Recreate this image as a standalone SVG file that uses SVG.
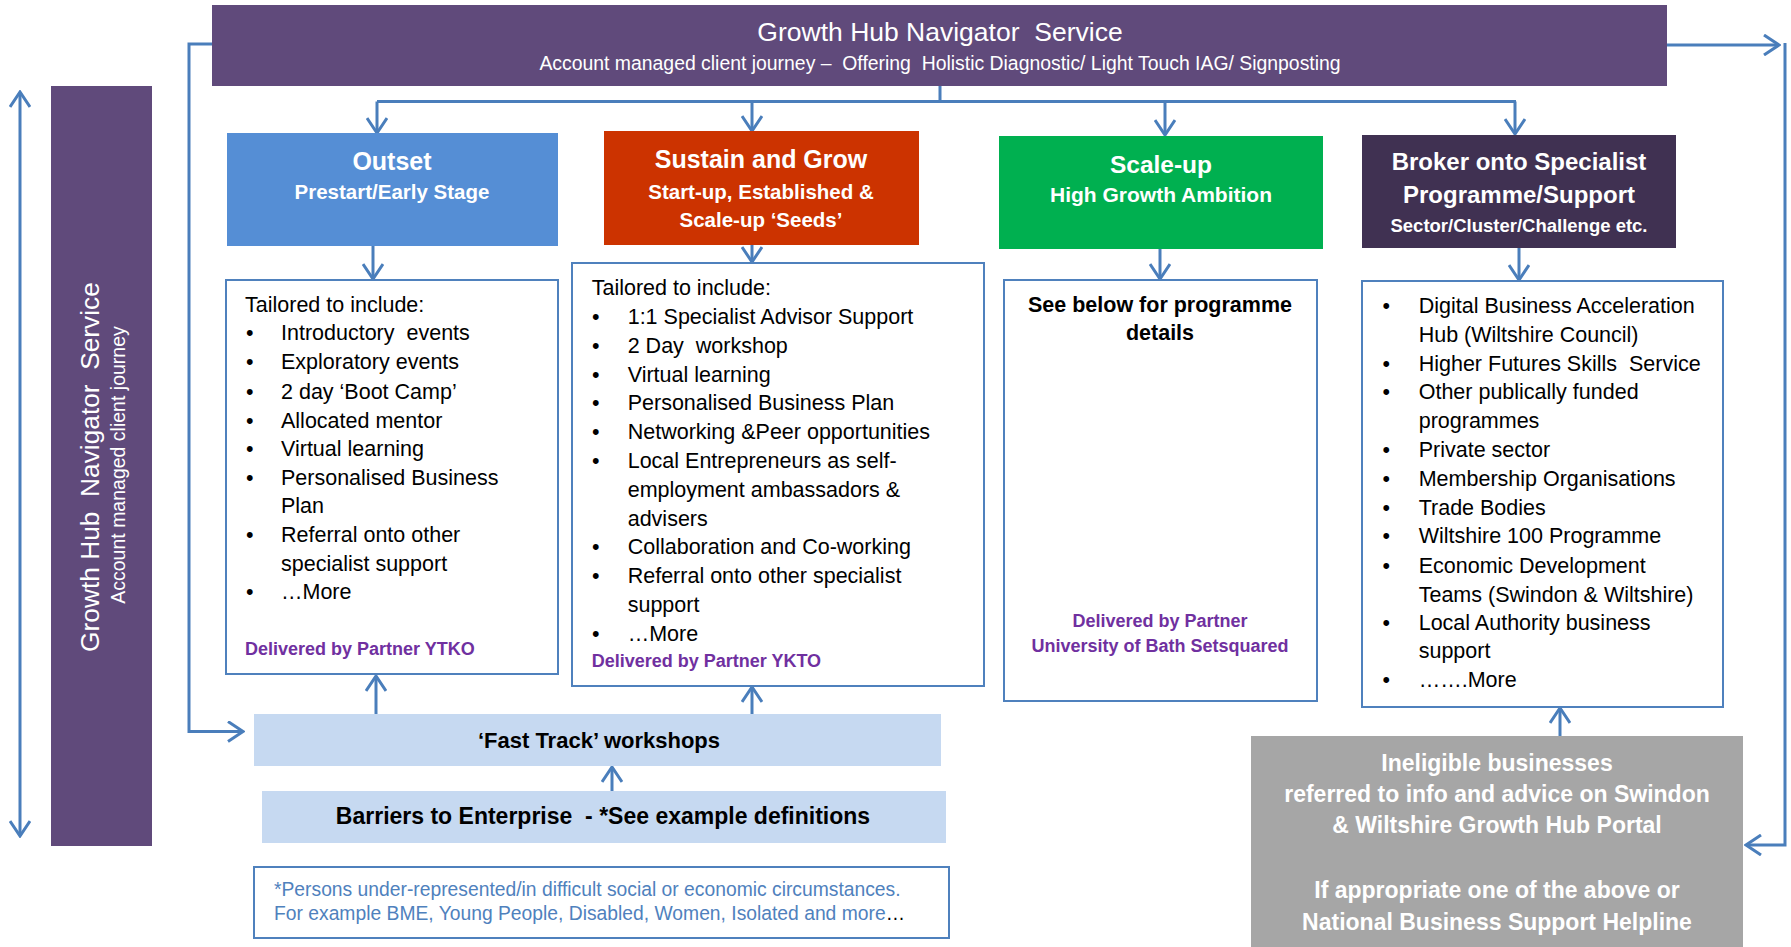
<svg xmlns="http://www.w3.org/2000/svg" width="1791" height="947" viewBox="0 0 1791 947">
<style>
text{font-family:"Liberation Sans",Arial,sans-serif;}
.w{fill:#fff;}
.b{font-weight:bold;}
.c{text-anchor:middle;}
.body{font-size:21.5px;fill:#000;}
.pur{fill:#7030A0;font-weight:bold;font-size:18px;}
.box{fill:#fff;stroke:#4F81BD;stroke-width:2;}
.con{fill:none;stroke:#4A7EBB;stroke-width:3;marker-end:url(#ah);}
.pre{white-space:pre;}
</style>
<defs>
<marker id="ah" viewBox="0 0 20 22" refX="18" refY="11" markerWidth="20" markerHeight="22" markerUnits="userSpaceOnUse" orient="auto-start-reverse">
<path d="M3,1 L18,11 L3,21" fill="none" stroke="#4A7EBB" stroke-width="3"/>
</marker>
</defs>
<rect width="1791" height="947" fill="#fff"/>

<g id="connectors">
<path d="M940,86 V101.5 M377,101.5 H1516" fill="none" stroke="#4A7EBB" stroke-width="3"/>
<path class="con" d="M377,101.5 V133"/>
<path class="con" d="M752,101.5 V131"/>
<path class="con" d="M1165,101.5 V135"/>
<path class="con" d="M1515,101.5 V134"/>
<path class="con" d="M373,246 V279"/>
<path class="con" d="M752,245 V262"/>
<path class="con" d="M1160,249 V279"/>
<path class="con" d="M1519,248 V280"/>
<path class="con" d="M376,714 V676"/>
<path class="con" d="M752,714 V687"/>
<path class="con" d="M612,791 V767"/>
<path class="con" d="M1560,736 V708"/>
<path class="con" d="M212,44 H189 V731.5 H243"/>
<path class="con" d="M1667,45 H1779"/>
<path class="con" d="M1785,43 V845 H1746"/>
<path class="con" d="M20,836 V92" style="marker-start:url(#ah)"/>
</g>

<g id="navigator-top">
<rect x="212" y="5" width="1455" height="81" fill="#604A7B"/>
<text class="w c pre" x="940" y="41" font-size="26.5">Growth Hub Navigator  Service</text>
<text class="w c pre" x="940" y="69.5" font-size="19.4">Account managed client journey –  Offering  Holistic Diagnostic/ Light Touch IAG/ Signposting</text>
</g>

<g id="navigator-side">
<rect x="51" y="86" width="101" height="760" fill="#604A7B"/>
<text class="w c pre" transform="translate(99,467) rotate(-90)" x="0" y="0" font-size="26.3">Growth Hub  Navigator  Service</text>
<text class="w c" transform="translate(125,465) rotate(-90)" x="0" y="0" font-size="19.5">Account managed client journey</text>
</g>

<g id="outset">
<rect x="227" y="133" width="331" height="113" fill="#558ED5"/>
<text class="w b c" x="392" y="170" font-size="25">Outset</text>
<text class="w b c" x="392" y="199" font-size="20.5">Prestart/Early Stage</text>
</g>

<g id="sustain">
<rect x="604" y="131" width="315" height="114" fill="#CC3300"/>
<text class="w b c" x="761" y="168" font-size="25">Sustain and Grow</text>
<text class="w b c" x="761" y="199" font-size="20.5">Start-up, Established &amp;</text>
<text class="w b c" x="761" y="227" font-size="20.5">Scale-up ‘Seeds’</text>
</g>

<g id="scaleup">
<rect x="999" y="136" width="324" height="113" fill="#00B050"/>
<text class="w b c" x="1161" y="173" font-size="24.5">Scale-up</text>
<text class="w b c" x="1161" y="202" font-size="21">High Growth Ambition</text>
</g>

<g id="broker">
<rect x="1362" y="135" width="314" height="113" fill="#403152"/>
<text class="w b c" x="1519" y="170" font-size="24">Broker onto Specialist</text>
<text class="w b c" x="1519" y="203" font-size="24">Programme/Support</text>
<text class="w b c" x="1519" y="232" font-size="18.5">Sector/Cluster/Challenge etc.</text>
</g>

<g id="outset-details">
<rect class="box" x="226" y="280" width="332" height="394"/>
<text class="body" x="245" y="311.7">Tailored to include:</text>
<text class="body" x="246" y="340">•</text><text class="body pre" x="281" y="340">Introductory  events</text>
<text class="body" x="246" y="369.3">•</text><text class="body" x="281" y="369.3">Exploratory events</text>
<text class="body" x="246" y="398.7">•</text><text class="body" x="281" y="398.7">2 day ‘Boot Camp’</text>
<text class="body" x="246" y="427.7">•</text><text class="body" x="281" y="427.7">Allocated mentor</text>
<text class="body" x="246" y="456">•</text><text class="body" x="281" y="456">Virtual learning</text>
<text class="body" x="246" y="485">•</text><text class="body" x="281" y="485">Personalised Business</text>
<text class="body" x="281" y="513.3">Plan</text>
<text class="body" x="246" y="542.3">•</text><text class="body" x="281" y="542.3">Referral onto other</text>
<text class="body" x="281" y="571">specialist support</text>
<text class="body" x="246" y="599">•</text><text class="body" x="281" y="599">…More</text>
<text class="pur" x="245" y="655">Delivered by Partner YTKO</text>
</g>

<g id="sustain-details">
<rect class="box" x="572" y="263" width="412" height="423"/>
<text class="body" x="591.7" y="295">Tailored to include:</text>
<text class="body" x="592" y="324">•</text><text class="body" x="627.7" y="324">1:1 Specialist Advisor Support</text>
<text class="body" x="592" y="353.3">•</text><text class="body pre" x="627.7" y="353.3">2 Day  workshop</text>
<text class="body" x="592" y="381.7">•</text><text class="body" x="627.7" y="381.7">Virtual learning</text>
<text class="body" x="592" y="410">•</text><text class="body" x="627.7" y="410">Personalised Business Plan</text>
<text class="body" x="592" y="439.3">•</text><text class="body" x="627.7" y="439.3">Networking &amp;Peer opportunities</text>
<text class="body" x="592" y="468.3">•</text><text class="body" x="627.7" y="468.3">Local Entrepreneurs as self-</text>
<text class="body" x="627.7" y="497.3">employment ambassadors &amp;</text>
<text class="body" x="627.7" y="525.7">advisers</text>
<text class="body" x="592" y="554.3">•</text><text class="body" x="627.7" y="554.3">Collaboration and Co-working</text>
<text class="body" x="592" y="583.3">•</text><text class="body" x="627.7" y="583.3">Referral onto other specialist</text>
<text class="body" x="627.7" y="611.7">support</text>
<text class="body" x="592" y="640.7">•</text><text class="body" x="627.7" y="640.7">…More</text>
<text class="pur" x="591.7" y="666.7">Delivered by Partner YKTO</text>
</g>

<g id="scaleup-details">
<rect class="box" x="1004" y="280" width="313" height="421"/>
<text class="body b c" x="1160" y="311.7" font-size="21">See below for programme</text>
<text class="body b c" x="1160" y="340" font-size="21">details</text>
<text class="pur c" x="1160" y="626.7">Delivered by Partner</text>
<text class="pur c" x="1160" y="651.7">University of Bath Setsquared</text>
</g>

<g id="broker-details">
<rect class="box" x="1362" y="281" width="361" height="426"/>
<text class="body" x="1382.5" y="313.3">•</text><text class="body" x="1418.7" y="313.3">Digital Business Acceleration</text>
<text class="body" x="1418.7" y="341.7">Hub (Wiltshire Council)</text>
<text class="body" x="1382.5" y="370.7">•</text><text class="body pre" x="1418.7" y="370.7">Higher Futures Skills  Service</text>
<text class="body" x="1382.5" y="399.3">•</text><text class="body" x="1418.7" y="399.3">Other publically funded</text>
<text class="body" x="1418.7" y="427.7">programmes</text>
<text class="body" x="1382.5" y="456.7">•</text><text class="body" x="1418.7" y="456.7">Private sector</text>
<text class="body" x="1382.5" y="486">•</text><text class="body" x="1418.7" y="486">Membership Organisations</text>
<text class="body" x="1382.5" y="515">•</text><text class="body" x="1418.7" y="515">Trade Bodies</text>
<text class="body" x="1382.5" y="543.3">•</text><text class="body" x="1418.7" y="543.3">Wiltshire 100 Programme</text>
<text class="body" x="1382.5" y="572.7">•</text><text class="body" x="1418.7" y="572.7">Economic Development</text>
<text class="body" x="1418.7" y="601.7">Teams (Swindon &amp; Wiltshire)</text>
<text class="body" x="1382.5" y="630">•</text><text class="body" x="1418.7" y="630">Local Authority business</text>
<text class="body" x="1418.7" y="658.3">support</text>
<text class="body" x="1382.5" y="686.7">•</text><text class="body" x="1418.7" y="686.7">…….More</text>
</g>

<g id="fast-track">
<rect x="254" y="714" width="687" height="52" fill="#C6D9F1"/>
<text class="b c" x="599" y="748.3" font-size="22">‘Fast Track’ workshops</text>
</g>

<g id="barriers">
<rect x="262" y="791" width="684" height="52" fill="#C6D9F1"/>
<text class="b c pre" x="603" y="824" font-size="23">Barriers to Enterprise  - *See example definitions</text>
</g>

<g id="footnote">
<rect class="box" x="254" y="867" width="695" height="71"/>
<text x="274" y="896" font-size="19.3" fill="#4F81BD">*Persons under-represented/in difficult social or economic circumstances.</text>
<text x="274" y="920" font-size="19.3" fill="#4F81BD">For example BME, Young People, Disabled, Women, Isolated and more<tspan fill="#000">…</tspan></text>
</g>

<g id="ineligible">
<rect x="1251" y="736" width="492" height="211" fill="#A6A6A6"/>
<text class="w b c" x="1497" y="770.7" font-size="23">Ineligible businesses</text>
<text class="w b c" x="1497" y="801.7" font-size="23">referred to info and advice on Swindon</text>
<text class="w b c" x="1497" y="833.3" font-size="23">&amp; Wiltshire Growth Hub Portal</text>
<text class="w b c" x="1497" y="898.3" font-size="23">If appropriate one of the above or</text>
<text class="w b c" x="1497" y="930" font-size="23">National Business Support Helpline</text>
</g>
</svg>
